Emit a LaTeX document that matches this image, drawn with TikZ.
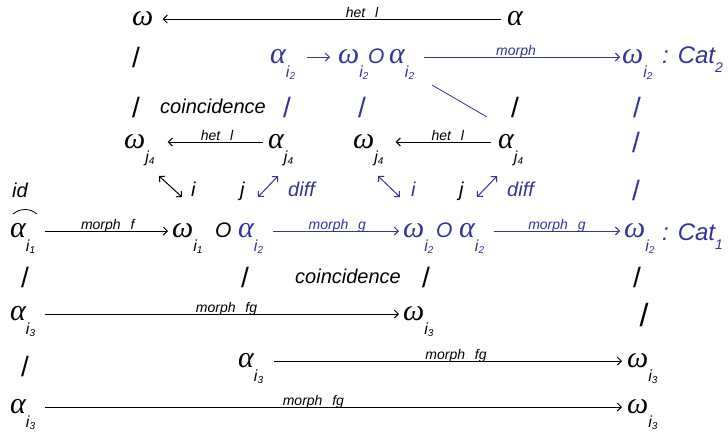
\documentclass[tikz,border=0pt]{standalone}
\usepackage{fontspec}
\setmainfont{Liberation Sans}
\newfontfamily\grkfont{Liberation Serif}
\usetikzlibrary{arrows.meta}
\definecolor{catblue}{RGB}{51,51,153}
\newcommand{\ix}[2]{\smash{\raisebox{-14pt}{\normalfont\fontsize{16}{16}\selectfont\itshape #1\raisebox{-2pt}{\fontsize{10}{10}\selectfont #2}}}}
\newcommand{\catix}[1]{\raisebox{-9pt}{\fontsize{14}{14}\selectfont #1}}

\begin{document}
\begin{tikzpicture}[x=1pt, y=-1pt,
  sym/.style={font=\fontsize{30}{30}\selectfont\grkfont\itshape, inner sep=0pt, anchor=west},
  word/.style={font=\fontsize{20}{20}\selectfont\itshape, inner sep=0pt, anchor=base west},
  circ/.style={font=\fontsize{21}{21}\selectfont\itshape, inner sep=0pt, anchor=base west},
  cat/.style={font=\fontsize{24}{24}\selectfont\itshape, inner sep=0pt, anchor=base west},
  bar/.style={font=\fontsize{28}{28}\selectfont, inner sep=0pt},
  lbl/.style={font=\fontsize{14}{14}\selectfont\itshape, inner sep=0pt, anchor=base, yshift=1.5pt},
  arr/.style={-{Straight Barb[length=4pt,width=8pt]}, line width=1pt, shorten <=10pt, shorten >=4pt},
  twin/.style={{Straight Barb[length=4pt,width=8pt]}-{Straight Barb[length=4pt,width=8pt]}, line width=1pt}
]
\useasboundingbox (0,0) rectangle (728,432);

\node[sym] (w1) at (132,19) {ω};
\node[sym] (a1) at (507,19) {α};
\draw[arr, shorten <=6pt, shorten >=9pt] (a1) -- node[lbl, pos=.41]{het\hspace{.7em}l} (w1);

\node[bar] (s21) at (136,57) {/};
\begin{scope}[catblue]
\node[sym] (a21) at (270,57) {α\ix{i}{2}};
\node[sym] (w21) at (338,57) {ω\ix{i}{2}};
\node[circ] (o21) at (368,63) {O};
\node[sym] (a22) at (389,57) {α\ix{i}{2}};
\node[sym] (w22) at (622,57) {ω\ix{i}{2}};
\node[cat] (cat2) at (662,63) {: Cat\catix{2}};
\draw[arr, shorten <=12pt, shorten >=8pt] (a21) -- (w21);
\draw[arr, shorten >=2pt] (a22) -- node[lbl, pos=.49]{morph} (w22);
\end{scope}

\node[bar] (s31) at (136,107) {/};
\node[word] (co1) at (160,113) {coincidence};
\node[bar, catblue] (s32) at (287,107) {/};
\node[bar, catblue] (s33) at (362,107) {/};
\node[bar] (s34) at (515,107) {/};
\node[bar, catblue] (s35) at (637,107) {/};
\coordinate (dg1) at (432,85);
\coordinate (dg2) at (487,117);
\draw[catblue, line width=0.8pt] (dg1) -- (dg2);

\node[sym] (w41) at (124,142) {ω\ix{j}{4}};
\node[sym] (a41) at (268,142) {α\ix{j}{4}};
\draw[arr, shorten <=5pt, shorten >=13pt] (a41) -- node[lbl, pos=.45]{het\hspace{.7em}l} (w41);
\node[sym] (w42) at (353,142) {ω\ix{j}{4}};
\node[sym] (a42) at (498,142) {α\ix{j}{4}};
\draw[arr, shorten <=7pt, shorten >=12pt] (a42) -- node[lbl, pos=.44]{het\hspace{.7em}l} (w42);
\node[bar, catblue] (s41) at (636,142) {/};

\node[word] (id) at (12,197) {id};
\coordinate (tw1a) at (159,176);
\coordinate (tw1b) at (182,197);
\draw[twin] (tw1a) -- (tw1b);
\node[word] (i51) at (191,196) {i};
\node[word] (j51) at (240,196) {j};
\coordinate (tw2a) at (258,197);
\coordinate (tw2b) at (278,176);
\draw[twin, catblue] (tw2a) -- (tw2b);
\node[word, catblue] (df1) at (288,196) {diff};
\coordinate (tw3a) at (378,176);
\coordinate (tw3b) at (400,197);
\draw[twin, catblue] (tw3a) -- (tw3b);
\node[word, catblue] (i52) at (411,196) {i};
\node[word] (j52) at (459,196) {j};
\coordinate (tw4a) at (477,197);
\coordinate (tw4b) at (497,176);
\draw[twin, catblue] (tw4a) -- (tw4b);
\node[word, catblue] (df2) at (507,196) {diff};
\node[bar, catblue] (s51) at (636,190) {/};

\node[sym] (a61) at (10,231) {α\ix{i}{1}};
\draw[line width=0.8pt] (13,214) to[bend left=40] (37,214);
\node[sym] (w61) at (172,231) {ω\ix{i}{1}};
\draw[arr] (a61) -- node[lbl, pos=.53]{morph\hspace{.7em}f} (w61);
\node[circ] (o61) at (215,237) {O};
\begin{scope}[catblue]
\node[sym] (a62) at (238,231) {α\ix{i}{2}};
\node[sym] (w62) at (403,231) {ω\ix{i}{2}};
\node[circ] (o62) at (436,237) {O};
\node[sym] (a63) at (459,231) {α\ix{i}{2}};
\node[sym] (w63) at (624,231) {ω\ix{i}{2}};
\node[cat] (cat1) at (662,240) {: Cat\catix{1}};
\draw[arr] (a62) -- node[lbl, pos=.53]{morph\hspace{.7em}g} (w62);
\draw[arr] (a63) -- node[lbl, pos=.52]{morph\hspace{.7em}g} (w63);
\end{scope}

\node[bar] (s71) at (25,277) {/};
\node[bar] (s72) at (245,277) {/};
\node[word] (co2) at (295,283) {coincidence};
\node[bar] (s73) at (426,277) {/};
\node[bar] (s74) at (637,277) {/};

\node[sym] (a81) at (10,314) {α\ix{i}{3}};
\node[sym] (w81) at (403,314) {ω\ix{i}{3}};
\draw[arr] (a81) -- node[lbl, pos=.52]{morph\hspace{.7em}fg} (w81);
\node[bar, font=\fontsize{32}{32}\selectfont] (s81) at (644,315) {/};

\node[bar] (s91) at (25,366) {/};
\node[sym] (a91) at (238,361) {α\ix{i}{3}};
\node[sym] (w91) at (627,361) {ω\ix{i}{3}};
\draw[arr, shorten <=11pt, shorten >=5pt] (a91) -- node[lbl, pos=.53]{morph\hspace{.7em}fg} (w91);

\node[sym] (a101) at (10,407) {α\ix{i}{3}};
\node[sym] (w101) at (627,407) {ω\ix{i}{3}};
\draw[arr, shorten >=5pt] (a101) -- node[lbl, pos=.47]{morph\hspace{.7em}fg} (w101);
\end{tikzpicture}
\end{document}
